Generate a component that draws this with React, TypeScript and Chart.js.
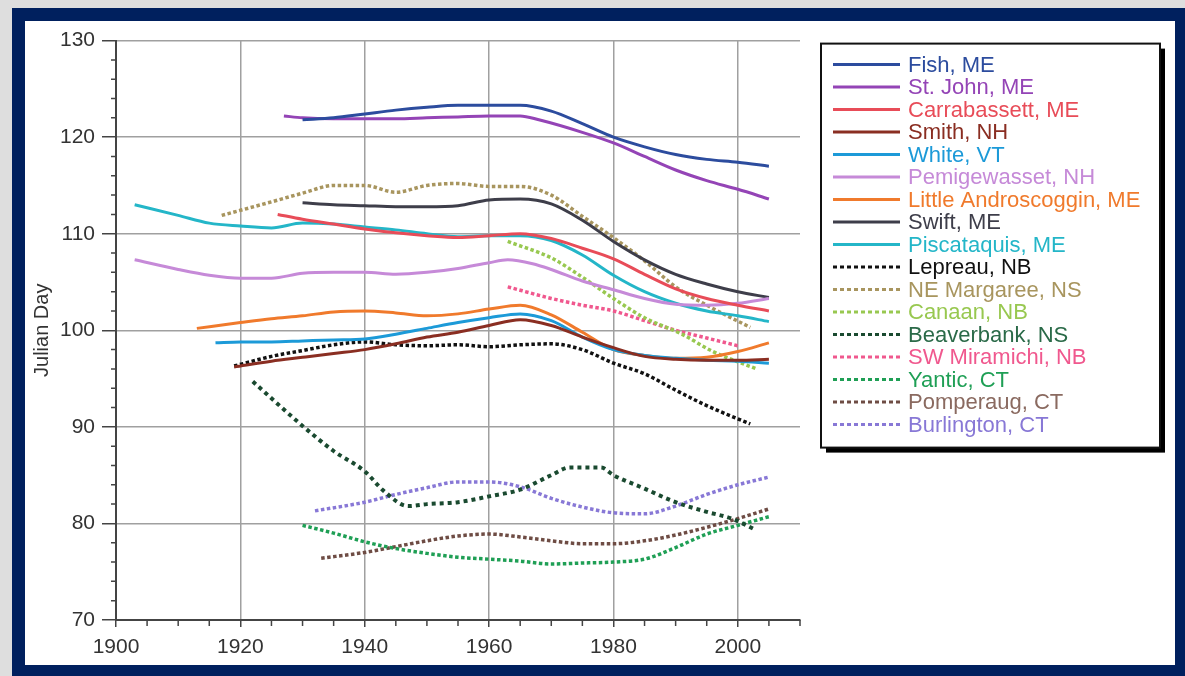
import React, { useEffect, useRef } from 'react';
import { Chart, registerables } from 'chart.js';

Chart.register(...registerables);

// ---- Series metadata ----
const seriesNames = [
  'Fish, ME', 'St. John, ME', 'Carrabassett, ME', 'Smith, NH', 'White, VT',
  'Pemigewasset, NH', 'Little Androscoggin, ME', 'Swift, ME', 'Piscataquis, ME',
  'Lepreau, NB', 'NE Margaree, NS', 'Canaan, NB', 'Beaverbank, NS',
  'SW Miramichi, NB', 'Yantic, CT', 'Pomperaug, CT', 'Burlington, CT',
];
const lineColors = [
  '#2c4c9e', '#9444b6', '#e84c58', '#8a2e22', '#1c9ad8',
  '#c68ad8', '#f07a2c', '#3e3e4a', '#24b6c8',
  '#111111', '#a8955e', '#98c850', '#1a4a30',
  '#f0588e', '#1f9f55', '#6e4c44', '#8878d6',
];
const labelColors = [
  '#2c4c9e', '#9444b6', '#e84c58', '#8a2e22', '#1c9ad8',
  '#c68ad8', '#f07a2c', '#3e3e4a', '#24b6c8',
  '#111111', '#a8955e', '#98c850', '#2a6a48',
  '#f0588e', '#1f9f55', '#8a6a60', '#8878d6',
];
const dottedFlags = [
  false, false, false, false, false, false, false, false, false,
  true, true, true, true, true, true, true, true,
];

// ---- Series values (year, Julian day) ----
const fishYears = [1930, 1935, 1940, 1945, 1950, 1955, 1960, 1965, 1970, 1975, 1980, 1985, 1990, 1995, 2000, 2005];
const fishDays = [121.8, 122.0, 122.4, 122.8, 123.1, 123.3, 123.3, 123.3, 122.7, 121.4, 120.0, 119.0, 118.2, 117.7, 117.4, 117.0];

const stJohnYears = [1927, 1930, 1935, 1940, 1945, 1950, 1955, 1960, 1965, 1968, 1975, 1980, 1985, 1990, 1995, 2000, 2005];
const stJohnDays = [122.2, 122.0, 121.9, 121.9, 121.9, 122.0, 122.1, 122.2, 122.2, 121.8, 120.5, 119.4, 118.0, 116.6, 115.5, 114.6, 113.6];

const carrabassettYears = [1926, 1930, 1935, 1940, 1945, 1950, 1955, 1960, 1965, 1970, 1975, 1980, 1985, 1990, 1995, 2000, 2005];
const carrabassettDays = [112.0, 111.5, 111.0, 110.5, 110.1, 109.8, 109.6, 109.8, 110.0, 109.5, 108.5, 107.4, 105.8, 104.3, 103.3, 102.6, 102.0];

const smithYears = [1919, 1925, 1930, 1935, 1940, 1945, 1950, 1955, 1960, 1965, 1970, 1975, 1980, 1985, 1990, 1995, 2000, 2005];
const smithDays = [96.2, 96.8, 97.2, 97.6, 98.0, 98.6, 99.3, 99.8, 100.5, 101.1, 100.5, 99.3, 98.2, 97.3, 97.0, 96.9, 96.9, 97.0];

const whiteYears = [1916, 1920, 1925, 1930, 1935, 1940, 1945, 1950, 1955, 1960, 1965, 1970, 1975, 1980, 1985, 1990, 1995, 2000, 2005];
const whiteDays = [98.7, 98.8, 98.8, 98.9, 99.0, 99.1, 99.6, 100.2, 100.8, 101.3, 101.7, 101.0, 99.3, 98.0, 97.4, 97.1, 96.9, 96.8, 96.6];

const pemigewassetYears = [1903, 1910, 1915, 1920, 1925, 1930, 1935, 1940, 1945, 1950, 1955, 1960, 1963, 1967, 1970, 1975, 1980, 1985, 1990, 1995, 2000, 2005];
const pemigewassetDays = [107.3, 106.3, 105.7, 105.4, 105.4, 105.9, 106.0, 106.0, 105.8, 106.0, 106.4, 107.0, 107.3, 106.9, 106.3, 105.1, 104.2, 103.3, 102.7, 102.6, 102.8, 103.3];

const littleAndroYears = [1913, 1920, 1925, 1930, 1935, 1940, 1945, 1950, 1955, 1960, 1965, 1970, 1975, 1980, 1985, 1990, 1995, 2000, 2005];
const littleAndroDays = [100.2, 100.8, 101.2, 101.5, 101.9, 102.0, 101.8, 101.5, 101.7, 102.2, 102.6, 101.6, 99.8, 98.0, 97.4, 97.1, 97.2, 97.8, 98.7];

const swiftYears = [1930, 1935, 1940, 1945, 1950, 1955, 1960, 1965, 1970, 1975, 1980, 1985, 1990, 1995, 2000, 2005];
const swiftDays = [113.2, 113.0, 112.9, 112.8, 112.8, 112.9, 113.5, 113.6, 113.1, 111.4, 109.2, 107.3, 105.8, 104.8, 104.0, 103.4];

const piscataquisYears = [1903, 1910, 1915, 1920, 1925, 1930, 1935, 1940, 1945, 1950, 1955, 1960, 1965, 1970, 1975, 1980, 1985, 1990, 1995, 2000, 2005];
const piscataquisDays = [113.0, 111.9, 111.1, 110.8, 110.6, 111.1, 111.0, 110.7, 110.4, 110.0, 109.7, 109.8, 109.8, 109.3, 107.8, 105.7, 104.0, 102.8, 102.0, 101.5, 100.9];

const lepreauYears = [1919, 1925, 1930, 1935, 1940, 1945, 1950, 1955, 1960, 1965, 1970, 1975, 1980, 1985, 1990, 1995, 2002];
const lepreauDays = [96.3, 97.3, 97.9, 98.5, 98.8, 98.5, 98.4, 98.5, 98.3, 98.5, 98.6, 98.0, 96.6, 95.5, 93.8, 92.2, 90.3];

const margareeYears = [1917, 1925, 1930, 1935, 1940, 1945, 1950, 1955, 1960, 1965, 1970, 1975, 1980, 1985, 1990, 1995, 2002];
const margareeDays = [111.9, 113.3, 114.2, 115.0, 115.0, 114.3, 115.0, 115.2, 114.9, 114.9, 114.0, 111.8, 109.6, 107.2, 104.5, 102.6, 100.3];

const canaanYears = [1963, 1970, 1975, 1980, 1985, 1991, 1996, 2003];
const canaanDays = [109.2, 107.5, 105.5, 103.3, 101.3, 99.6, 97.8, 96.0];

const beaverbankYears = [1922, 1930, 1935, 1940, 1943, 1947, 1950, 1955, 1960, 1965, 1970, 1973, 1978, 1980, 1985, 1990, 1995, 1999, 2003];
const beaverbankDays = [94.7, 90.1, 87.5, 85.4, 83.4, 81.8, 82.0, 82.2, 82.8, 83.5, 85.0, 85.8, 85.8, 85.0, 83.6, 82.2, 81.2, 80.5, 79.3];

const miramichiYears = [1963, 1970, 1975, 1980, 1985, 1990, 1995, 2000];
const miramichiDays = [104.5, 103.3, 102.6, 102.0, 101.0, 100.0, 99.2, 98.4];

const yanticYears = [1930, 1935, 1940, 1945, 1950, 1955, 1960, 1965, 1970, 1975, 1980, 1985, 1990, 1995, 2000, 2005];
const yanticDays = [79.8, 79.0, 78.1, 77.4, 76.9, 76.5, 76.3, 76.1, 75.8, 75.9, 76.0, 76.3, 77.5, 78.9, 79.8, 80.7];

const pomperaugYears = [1933, 1940, 1945, 1950, 1955, 1960, 1965, 1970, 1975, 1980, 1985, 1990, 1995, 2000, 2005];
const pomperaugDays = [76.4, 77.0, 77.6, 78.2, 78.7, 78.9, 78.6, 78.2, 77.9, 77.9, 78.2, 78.8, 79.6, 80.5, 81.5];

const burlingtonYears = [1932, 1940, 1945, 1950, 1955, 1960, 1965, 1970, 1975, 1980, 1985, 1990, 1995, 2000, 2005];
const burlingtonDays = [81.3, 82.2, 83.0, 83.7, 84.3, 84.3, 83.8, 82.6, 81.7, 81.1, 81.0, 81.8, 83.0, 84.0, 84.8];

const seriesYears = [
  fishYears, stJohnYears, carrabassettYears, smithYears, whiteYears,
  pemigewassetYears, littleAndroYears, swiftYears, piscataquisYears,
  lepreauYears, margareeYears, canaanYears, beaverbankYears,
  miramichiYears, yanticYears, pomperaugYears, burlingtonYears,
];
const seriesDays = [
  fishDays, stJohnDays, carrabassettDays, smithDays, whiteDays,
  pemigewassetDays, littleAndroDays, swiftDays, piscataquisDays,
  lepreauDays, margareeDays, canaanDays, beaverbankDays,
  miramichiDays, yanticDays, pomperaugDays, burlingtonDays,
];

// ---- Tick values ----
const xMajorTicks = [1900, 1920, 1940, 1960, 1980, 2000];
const xMinorTicks = [1905, 1910, 1915, 1925, 1930, 1935, 1945, 1950, 1955, 1965, 1970, 1975, 1985, 1990, 1995, 2005, 2010];
const yMajorTicks = [70, 80, 90, 100, 110, 120, 130];
const yMinorTicks = [72, 74, 76, 78, 82, 84, 86, 88, 92, 94, 96, 98, 102, 104, 106, 108, 112, 114, 116, 118, 122, 124, 126, 128];

const FONT = 'Liberation Sans, Arial, Helvetica, sans-serif';

const minorTicksPlugin = {
  id: 'minorTicks',
  afterDraw(chart: any) {
    const { ctx, chartArea } = chart;
    const x = chart.scales.x;
    const y = chart.scales.y;
    ctx.save();
    ctx.strokeStyle = '#444';
    ctx.lineWidth = 1.5;
    ctx.beginPath();
    xMinorTicks.forEach((v) => {
      const px = x.getPixelForValue(v);
      ctx.moveTo(px, chartArea.bottom);
      ctx.lineTo(px, chartArea.bottom + 6);
    });
    yMinorTicks.forEach((v) => {
      const py = y.getPixelForValue(v);
      ctx.moveTo(chartArea.left - 5, py);
      ctx.lineTo(chartArea.left, py);
    });
    ctx.stroke();
    ctx.restore();
  },
};

// Framed legend with drop shadow, drawn to the right of the plot area
const boxedLegendPlugin = {
  id: 'boxedLegend',
  afterDraw(chart: any) {
    const { ctx, chartArea } = chart;
    const left = chartArea.right + 21;
    const top = chartArea.top + 3;
    const width = 339;
    const height = 404;
    ctx.save();
    ctx.fillStyle = '#000';
    ctx.fillRect(left + 5, top + 5, width, height);
    ctx.fillStyle = '#fff';
    ctx.fillRect(left, top, width, height);
    ctx.strokeStyle = '#111';
    ctx.lineWidth = 2;
    ctx.strokeRect(left, top, width, height);

    const lineX0 = left + 12;
    const lineX1 = lineX0 + 67;
    const textX = lineX1 + 8;
    const rowY0 = top + 21;
    const rowStep = 22.5;
    ctx.font = `22px ${FONT}`;
    ctx.textBaseline = 'middle';
    ctx.textAlign = 'left';
    chart.data.datasets.forEach((ds: any, i: number) => {
      const cy = rowY0 + i * rowStep;
      ctx.beginPath();
      ctx.strokeStyle = ds.borderColor;
      ctx.lineWidth = 3;
      ctx.lineCap = 'butt';
      ctx.setLineDash(dottedFlags[i] ? [4, 3] : []);
      ctx.moveTo(lineX0, cy);
      ctx.lineTo(lineX1, cy);
      ctx.stroke();
      ctx.setLineDash([]);
      ctx.fillStyle = labelColors[i];
      ctx.fillText(ds.label, textX, cy + 1);
    });
    ctx.restore();
  },
};

export default function App() {
  const ref = useRef<HTMLCanvasElement>(null);

  useEffect(() => {
    if (!ref.current) return;
    const datasets = seriesNames.map((name, i) => ({
      label: name,
      data: seriesYears[i].map((yr, j) => ({ x: yr, y: seriesDays[i][j] })),
      borderColor: lineColors[i],
      backgroundColor: lineColors[i],
      borderWidth: dottedFlags[i] ? (i === 12 ? 4 : 3.5) : 3,
      borderDash: dottedFlags[i] ? (i === 12 ? [4, 4] : [3.5, 2.5]) : [],
      pointRadius: 0,
      cubicInterpolationMode: 'monotone' as const,
      fill: false,
    }));

    const chart = new Chart(ref.current, {
      type: 'line',
      data: { datasets },
      options: {
        responsive: false,
        animation: false,
        events: [],
        layout: { padding: { left: 0, right: 375, top: 17, bottom: 0 } },
        plugins: {
          tooltip: { enabled: false },
          legend: { display: false },
        },
        scales: {
          x: {
            type: 'linear',
            min: 1900,
            max: 2010,
            afterBuildTicks: (s: any) => {
              s.ticks = xMajorTicks.map((v) => ({ value: v }));
            },
            afterFit: (s: any) => {
              s.height = 45;
            },
            grid: { color: '#a0a0a0', lineWidth: 1.5, tickLength: 7, tickColor: '#444', tickWidth: 1.5 },
            border: { color: '#444', width: 2 },
            ticks: {
              font: { family: FONT, size: 21 },
              color: '#333',
              padding: 8,
              maxRotation: 0,
              autoSkip: false,
              callback: (v: any) => String(v),
            },
          },
          y: {
            type: 'linear',
            min: 70,
            max: 130,
            afterBuildTicks: (s: any) => {
              s.ticks = yMajorTicks.map((v) => ({ value: v }));
            },
            afterFit: (s: any) => {
              s.width = 91;
            },
            title: {
              display: true,
              text: 'Julian Day',
              font: { family: FONT, size: 20 },
              color: '#333',
              padding: { top: 5, bottom: 0 },
            },
            grid: { color: '#a0a0a0', lineWidth: 1.5, tickLength: 14, tickColor: '#444', tickWidth: 1.5 },
            border: { color: '#444', width: 2 },
            ticks: {
              font: { family: FONT, size: 21 },
              color: '#333',
              padding: 7,
              autoSkip: false,
            },
          },
        },
      } as any,
      plugins: [minorTicksPlugin, boxedLegendPlugin],
    });
    return () => chart.destroy();
  }, []);

  return (
    <div style={{ position: 'fixed', left: 0, top: 0, width: 1185, height: 676, background: '#dedede', overflow: 'hidden' }}>
      <div style={{ position: 'absolute', left: 12, top: 8, right: 0, bottom: 0, background: '#00205e' }} />
      <div style={{ position: 'absolute', left: 25, top: 21, width: 1150, height: 644, background: '#ffffff' }}>
        <canvas ref={ref} width={1150} height={644} style={{ display: 'block', width: 1150, height: 644 }} />
      </div>
    </div>
  );
}
